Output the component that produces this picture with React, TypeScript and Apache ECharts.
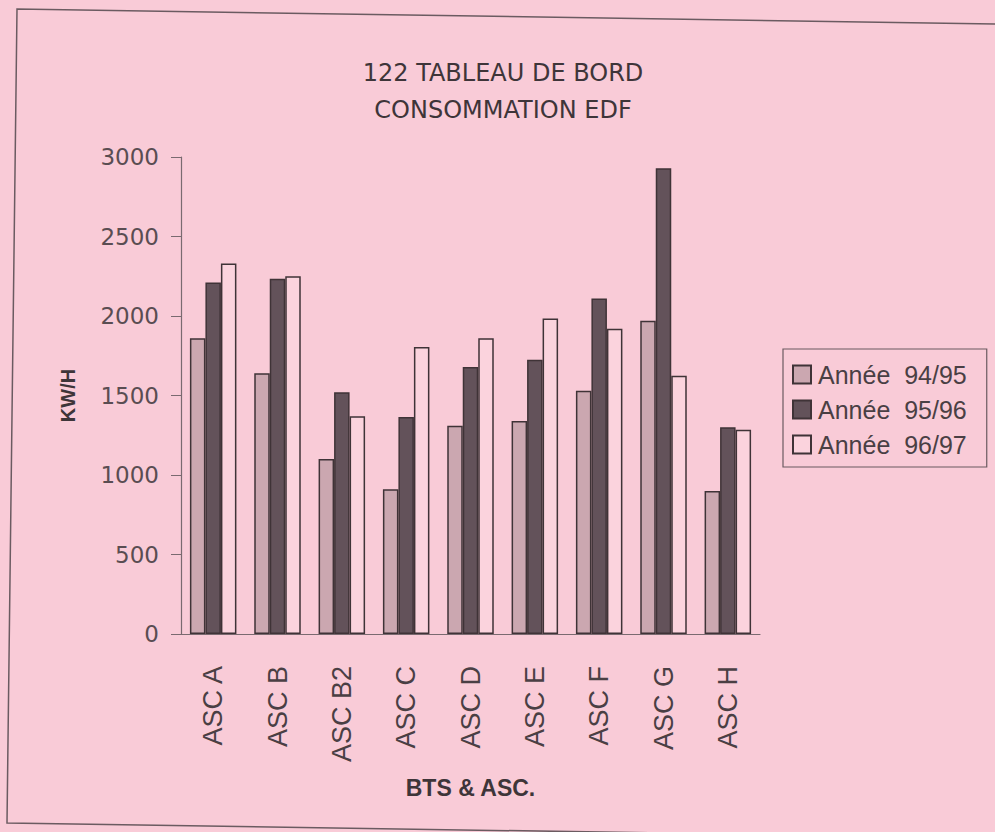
import React, { useEffect, useRef } from "react";
import * as echarts from "echarts";

const categories = ["ASC A", "ASC B", "ASC B2", "ASC C", "ASC D", "ASC E", "ASC F", "ASC G", "ASC H"];
const seriesNames = ["Année 94/95", "Année 95/96", "Année 96/97"];
const y9495 = [1860, 1640, 1100, 910, 1310, 1340, 1530, 1970, 900];
const y9596 = [2210, 2235, 1520, 1365, 1680, 1725, 2110, 2930, 1300];
const y9697 = [2330, 2250, 1370, 1805, 1860, 1985, 1920, 1625, 1285];
const titleLines = ["122 TABLEAU DE BORD", "CONSOMMATION EDF"];

const BG = "#f9cbd7";
const EDGE = "#3f3337";
const fills = ["#cba7b0", "#63525a", "#fbd3dd"];

export default function App() {
  const ref = useRef<HTMLDivElement>(null);
  useEffect(() => {
    document.body.style.margin = "0";
    const chart = echarts.init(ref.current!, null, { renderer: "svg" });
    const allData = [y9495, y9596, y9697];
    const frameColor = "#7a6a70";
    chart.setOption({
      animation: false,
      backgroundColor: BG,
      title: {
        text: titleLines.join("\n"),
        left: 498,
        top: 49,
        textAlign: "center",
        textStyle: {
          fontFamily: "DejaVu Sans",
          fontWeight: "normal",
          fontSize: 24,
          lineHeight: 37,
          color: "#3e3539",
        },
      },
      legend: {
        orient: "vertical",
        left: 783,
        top: 349,
        padding: [13, 20, 10, 9],
        itemGap: 10,
        itemWidth: 18,
        itemHeight: 18,
        icon: "rect",
        borderColor: "#6b5b61",
        borderWidth: 1.2,
        data: seriesNames,
        formatter: (n: string) => n.replace(" ", "  "),
        textStyle: {
          fontFamily: "Liberation Sans",
          fontSize: 25,
          color: "#4a3f44",
          padding: [0, 0, 0, 2],
        },
      },
      grid: { left: 181, top: 157, width: 579, height: 477 },
      xAxis: [
        {
          type: "category",
          data: categories,
          name: "BTS & ASC.",
          nameLocation: "middle",
          nameGap: 142,
          nameTextStyle: {
            fontFamily: "Liberation Sans",
            fontWeight: "bold",
            fontSize: 23,
            color: "#3e3539",
          },
          axisLine: { lineStyle: { color: frameColor, width: 1.2 } },
          axisTick: { length: 9, lineStyle: { color: frameColor } },
          axisLabel: {
            rotate: 90,
            margin: 32,
            fontFamily: "Liberation Sans",
            fontSize: 27,
            color: "#4a3f44",
          },
        },
        {
          type: "category",
          data: categories,
          position: "bottom",
          axisLine: { show: false },
          axisLabel: { show: false },
          axisTick: { inside: true, length: 6, lineStyle: { color: frameColor } },
        },
      ],
      yAxis: {
        type: "value",
        min: 0,
        max: 3000,
        interval: 500,
        name: "KW/H",
        nameLocation: "middle",
        nameGap: 103,
        nameRotate: 90,
        nameTextStyle: {
          fontFamily: "Liberation Sans",
          fontWeight: "bold",
          fontSize: 20,
          color: "#3e3539",
        },
        splitLine: { show: false },
        axisLine: { show: true, lineStyle: { color: frameColor, width: 1.2 } },
        axisTick: { show: true, length: 10, lineStyle: { color: frameColor } },
        axisLabel: {
          margin: 22,
          formatter: (v: number) => String(v),
          fontFamily: "DejaVu Sans",
          fontSize: 23,
          color: "#5a4d52",
        },
      },
      series: seriesNames.map((name, i) => ({
        name,
        type: "bar",
        data: allData[i],
        barWidth: 15.5,
        barGap: "0%",
        itemStyle: { color: fills[i], borderColor: EDGE, borderWidth: 1.5 },
      })),
      graphic: [
        {
          type: "polyline",
          silent: true,
          shape: { points: [[995, 24], [17, 9], [7, 823], [995, 838]] },
          style: { stroke: "#6b5b61", lineWidth: 1.5, fill: null },
        },
      ],
    });
    return () => chart.dispose();
  }, []);
  return <div ref={ref} style={{ width: 995, height: 832 }} />;
}
